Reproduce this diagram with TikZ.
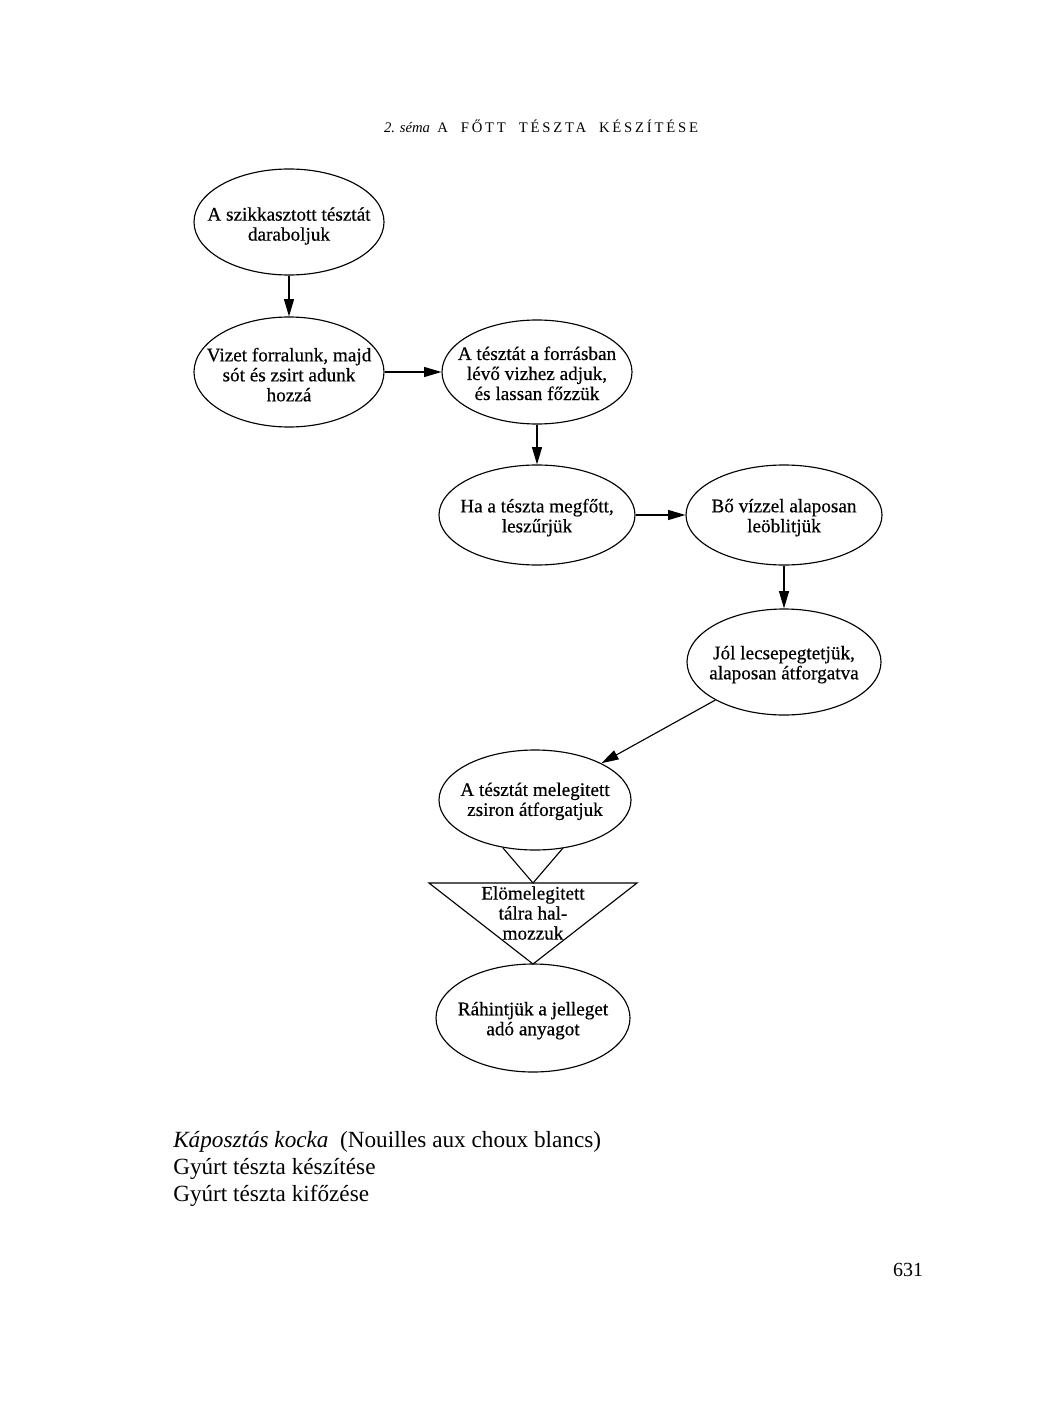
\documentclass[tikz,border=0pt]{standalone}
\usepackage{fontspec}
\setmainfont{Liberation Serif}
\usetikzlibrary{arrows.meta,shapes.geometric}
\begin{document}
\begin{tikzpicture}[x=0.75pt,y=-0.75pt,
  steptext/.style={inner sep=0pt,align=center,
    font=\fontsize{14.4}{15}\selectfont\addfontfeature{FakeBold=0.4}},
  stepnode/.style={ellipse,draw,line width=0.85pt,inner sep=0pt},
  conn/.style={draw,line width=0.85pt,-{Triangle[length=13pt,width=7.5pt]}},
  shapeline/.style={draw,line width=0.85pt,line join=miter},
  bodytext/.style={anchor=base west,inner sep=0pt,font=\fontsize{17.4}{20}\selectfont}
  ]
\useasboundingbox[fill=white] (0,0) rectangle (1056,1401);

% title
\node[inner sep=0pt,font=\fontsize{11}{12}\selectfont] (title) at (541,126)
  {\textit{2. séma}\ \ {\addfontfeature{LetterSpace=19}A\ \ FŐTT\ \ TÉSZTA\ \ KÉSZÍTÉSE}};

% ellipses
\node[stepnode,minimum width=142.5pt,minimum height=79.5pt,
  label={[steptext,yshift=-3pt]center:{A szikkasztott tésztát\\daraboljuk}}] (e1) at (289,222) {};
\node[stepnode,minimum width=142.5pt,minimum height=82.5pt,
  label={[steptext,yshift=-2pt]center:{Vizet forralunk, majd\\sót és zsirt adunk\\hozzá}}] (e2) at (289,372) {};
\node[stepnode,minimum width=142.5pt,minimum height=78pt,
  label={[steptext,yshift=-1pt]center:{A tésztát a forrásban\\lévő vizhez adjuk,\\és lassan főzzük}}] (e3) at (537,372) {};
\node[stepnode,minimum width=147pt,minimum height=75pt,
  label={[steptext,yshift=-2pt]center:{Ha a tészta megfőtt,\\leszűrjük}}] (e4) at (537,515) {};
\node[stepnode,minimum width=147pt,minimum height=75pt,
  label={[steptext,yshift=-2pt]center:{Bő vízzel alaposan\\leöblitjük}}] (e5) at (784,515) {};
\node[stepnode,minimum width=145.5pt,minimum height=79.5pt,
  label={[steptext,yshift=-2pt]center:{Jól lecsepegtetjük,\\alaposan átforgatva}}] (e6) at (784,662) {};
\node[stepnode,minimum width=144pt,minimum height=75pt,
  label={[steptext,yshift=-1pt]center:{A tésztát melegitett\\zsiron átforgatjuk}}] (e7) at (535,800) {};
\node[stepnode,minimum width=145.5pt,minimum height=81pt,
  label={[steptext,yshift=-2pt]center:{Ráhintjük a jelleget\\adó anyagot}}] (e8) at (533,1018) {};

% funnel and triangle
\coordinate (fl) at (503,848);
\coordinate (fr) at (563,848);
\coordinate (fa) at (533,883);
\coordinate (tl) at (429,883);
\coordinate (tr) at (637,883);
\coordinate (tb) at (533,964);
\draw[shapeline] (fl) -- (fa) -- (fr);
\draw[shapeline] (tl) -- (tr) -- (tb) -- cycle;
\node[steptext] (tri) at (533,913)
  {Elömelegitett\\tálra hal-\\mozzuk};

% connectors
\draw[conn] (e1.south) -- (e2.north);
\draw[conn] (e2.east) -- (e3.west);
\draw[conn] (e3.south) -- (e4.north);
\draw[conn] (e4.east) -- (e5.west);
\draw[conn] (e5.south) -- (e6.north);
\draw[conn] (e6) -- (e7);

% text below
\node[bodytext] (b1) at (173,1147)
  {\textit{Káposztás kocka}\ \ (Nouilles\ aux\ choux\ blancs)};
\node[bodytext] (b2) at (173,1174) {Gyúrt\ tészta\ készítése};
\node[bodytext] (b3) at (173,1201) {Gyúrt\ tészta\ kifőzése};

\node[anchor=base,inner sep=0pt,font=\fontsize{15}{18}\selectfont] (page) at (908,1276) {631};
\end{tikzpicture}
\end{document}
